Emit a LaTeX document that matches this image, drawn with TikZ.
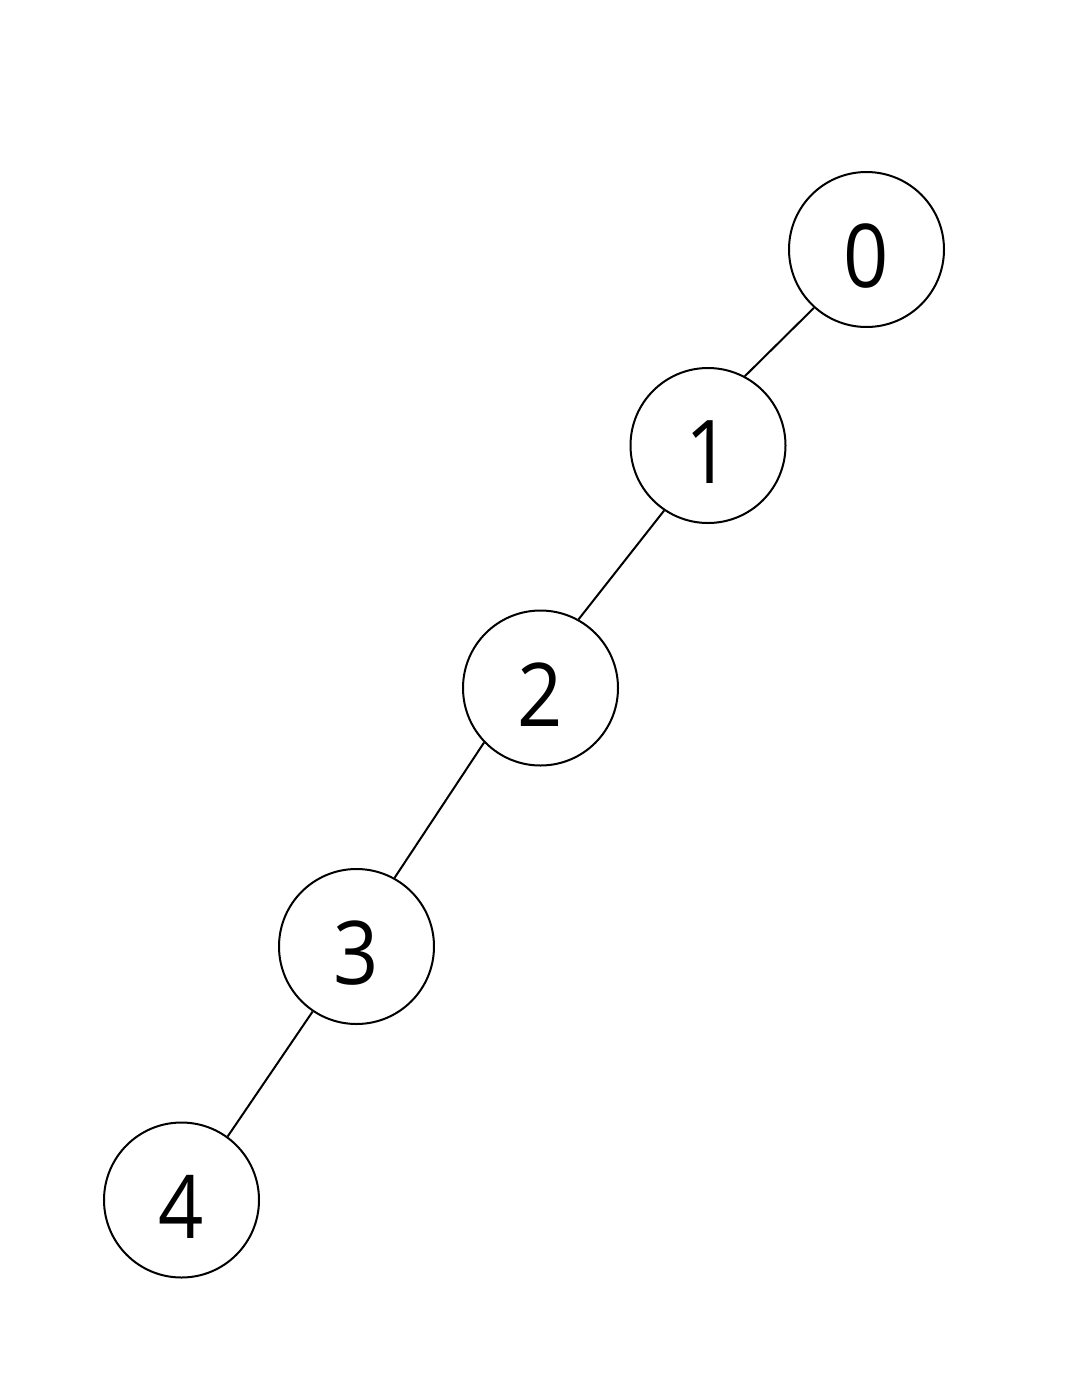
\documentclass[tikz,border=0pt]{standalone}
\usepackage{fontspec}
\setmainfont[FakeStretch=0.9]{Open Sans}
\begin{document}
\begin{tikzpicture}[x=1pt,y=-1pt,
  treenode/.style={circle,draw,line width=2pt,minimum size=155pt,inner sep=0pt,
    text height=76pt,text depth=0pt,font=\fontsize{88}{88}\selectfont},
  edge/.style={line width=2pt}]
\useasboundingbox[fill=white] (0,0) rectangle (1090,1376);
\node[treenode] (n0) at (866.5,249.5) {0};
\node[treenode] (n1) at (708,445.5) {1};
\node[treenode] (n2) at (540.5,688) {2};
\node[treenode] (n3) at (356.5,946.5) {3};
\node[treenode] (n4) at (181.5,1200) {4};
\draw[edge] (n0.228) -- (n1.62);
\draw[edge] (n1.236.5) -- (n2.61.5);
\draw[edge] (n2.224) -- (n3.61.5);
\draw[edge] (n3.236.5) -- (n4.54);
\end{tikzpicture}
\end{document}
